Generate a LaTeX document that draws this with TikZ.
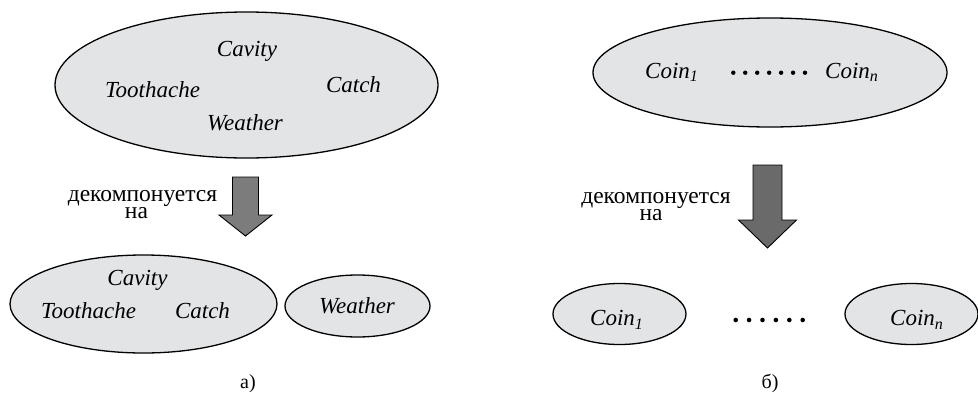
\documentclass[tikz,border=0pt]{standalone}
\usepackage{fontspec}
\setmainfont{Liberation Serif}
\usetikzlibrary{shapes.geometric}
\definecolor{setfill}{HTML}{E3E4E6}
\definecolor{arrA}{HTML}{7C7C7C}
\definecolor{arrB}{HTML}{6A6A6A}
\newcommand\mysub[1]{\raisebox{-3.5pt}{\fontsize{16}{16}\selectfont #1}}
\begin{document}
\begin{tikzpicture}[x=1pt,y=-1pt,
  setE/.style={ellipse, draw=black, line width=1.3pt, fill=setfill, inner sep=0pt},
  var/.style={anchor=base, inner sep=0pt, font=\itshape\fontsize{23}{23}\selectfont},
  dec/.style={anchor=base, inner sep=0pt, font=\fontsize{23.5}{23.5}\selectfont},
  captxt/.style={anchor=base, inner sep=0pt, font=\fontsize{20}{20}\selectfont},
  bigarrow/.style={draw=black, line width=0.9pt, line join=miter}]
\useasboundingbox (0,0) rectangle (978,394);

% ---------- a) ----------
\node[setE, minimum width=383pt, minimum height=146pt] (A) at (246.5,85) {};
\node[var] (A1) at (247,56.5) {Cavity};
\node[var] (A2) at (152.5,97) {Toothache};
\node[var] (A3) at (353.5,92) {Catch};
\node[var] (A4) at (245,130) {Weather};

\coordinate (ta) at (245.5,177);
\filldraw[bigarrow, fill=arrA] (ta) ++(-13,0) -- ++(26,0) -- ++(0,38) -- ++(13.5,0)
  -- ++(-26.5,21) -- ++(-26.5,-21) -- ++(13.5,0) -- cycle;
\node[dec] (da1) at (142.5,201.5) {декомпонуется};
\node[dec] (da2) at (136.5,218.3) {на};

\node[setE, minimum width=267pt, minimum height=98pt] (B) at (143.5,304) {};
\node[var] (B1) at (137.5,285) {Cavity};
\node[var] (B2) at (88.5,318) {Toothache};
\node[var] (B3) at (202.5,318) {Catch};
\node[setE, minimum width=145pt, minimum height=62pt] (C) at (357.5,306) {};
\node[var] (C1) at (357,313) {Weather};
\node[captxt] (capa) at (248,388) {а)};

% ---------- b) ----------
\node[setE, minimum width=354pt, minimum height=109pt] (D) at (770,72.5) {};
\node[var, anchor=base west] (D1) at (645,78) {Coin\mysub{1}};
\node[var, anchor=base west] (D2) at (825,78) {Coin\mysub{\itshape n}};
\foreach \i in {0,...,6} \fill (733.3+\i*11.95,72.7) circle (2.2pt);

\coordinate (tb) at (767.5,165);
\filldraw[bigarrow, fill=arrB] (tb) ++(-14.5,0) -- ++(29,0) -- ++(0,55) -- ++(14.5,0)
  -- ++(-29,28) -- ++(-29,-28) -- ++(14.5,0) -- cycle;
\node[dec] (db1) at (656,203.3) {декомпонуется};
\node[dec] (db2) at (651,220) {на};

\node[setE, minimum width=133pt, minimum height=61pt] (E) at (619.5,314) {};
\node[var, anchor=base west] (E1) at (590,325.5) {Coin\mysub{1}};
\node[setE, minimum width=133pt, minimum height=61pt] (F) at (911.5,314) {};
\node[var, anchor=base west] (F1) at (890,325.5) {Coin\mysub{\itshape n}};
\foreach \i in {0,...,5} \fill (735.7+\i*13.4,320) circle (2.3pt);
\node[captxt] (capb) at (770,388) {б)};
\end{tikzpicture}
\end{document}
